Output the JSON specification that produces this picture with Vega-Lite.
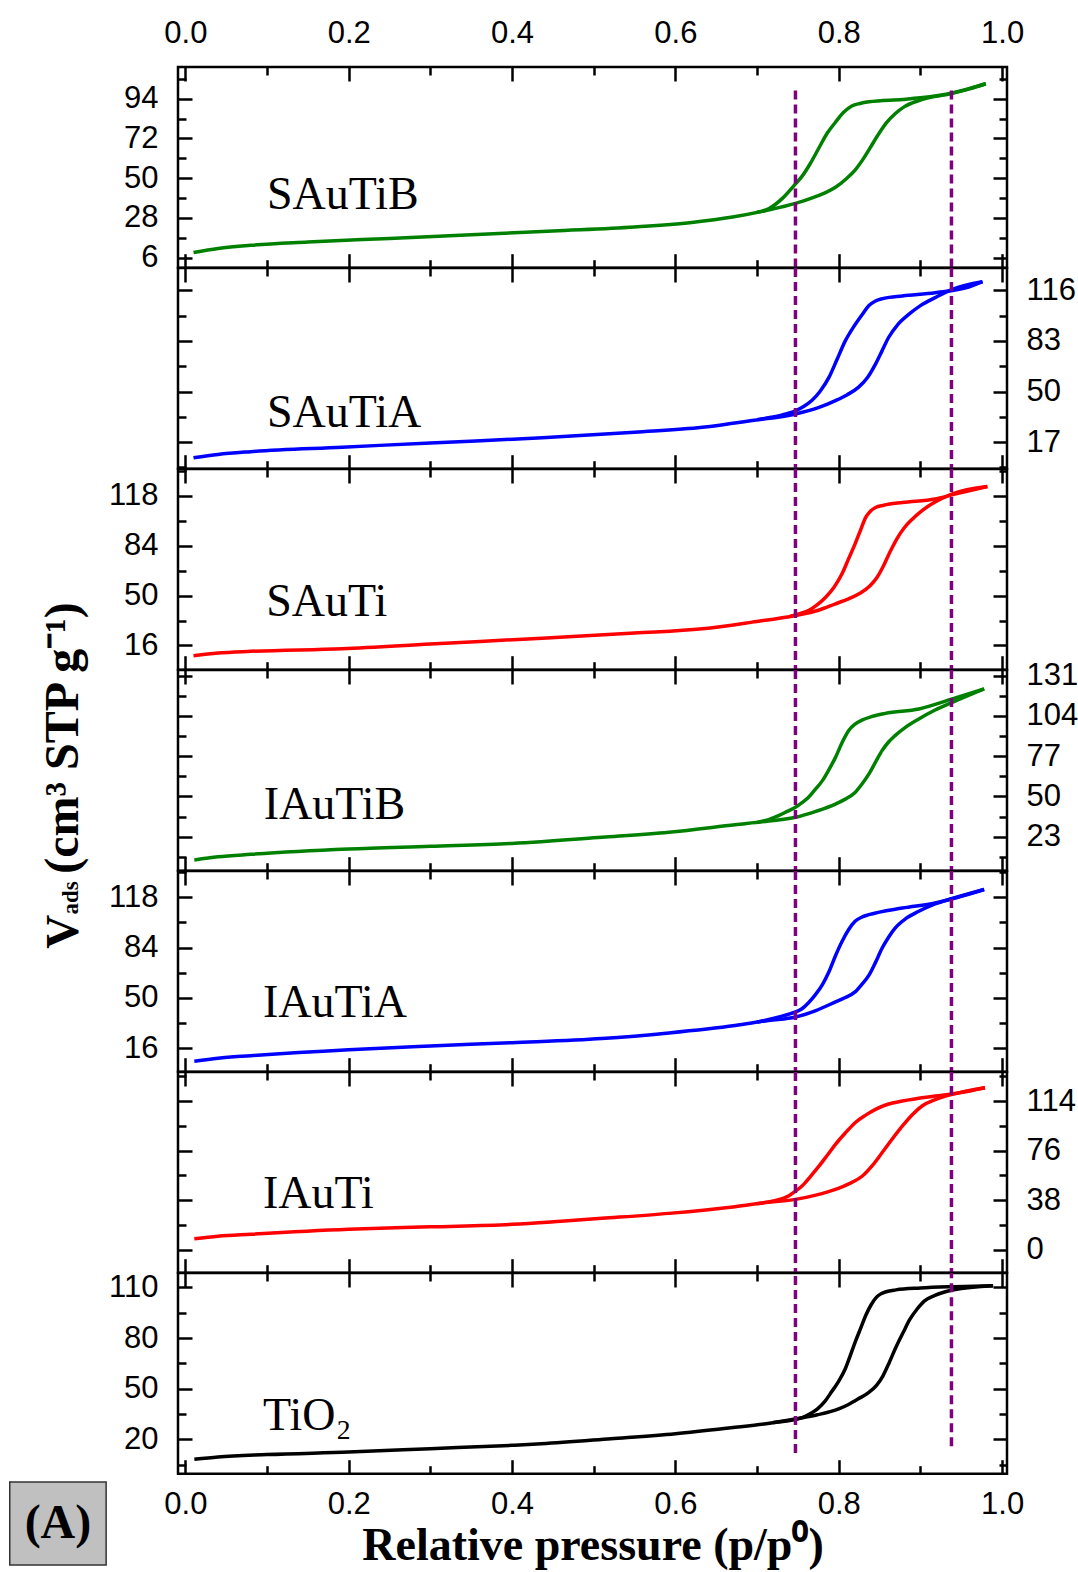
{
"$schema":"https://vega.github.io/schema/vega-lite/v6.json",
"background":"white",
"padding":{"left":7,"top":9,"right":0,"bottom":0},
"spacing":0,
"bounds":"flush",
"config":{"view":{"stroke":"black","strokeWidth":2.5},
"axis":{"domain":false,"grid":false,"tickColor":"black","tickWidth":2.5,"labelFont":"Liberation Sans","labelFontSize":31,"labelColor":"black","labelOverlap":false,"labelFlush":false}},
"datasets":{
"rules":[{"p":0.747},{"p":0.938}],
"rules7":[{"p":0.747,"lo":12},{"p":0.938,"lo":16}],
"d1":[{"b":"a","p":0.01,"v":8.8},{"b":"a","p":0.04,"v":11},{"b":"a","p":0.08,"v":12.8},{"b":"a","p":0.15,"v":14.6},{"b":"a","p":0.25,"v":16.6},{"b":"a","p":0.35,"v":18.6},{"b":"a","p":0.45,"v":20.8},{"b":"a","p":0.55,"v":23},{"b":"a","p":0.62,"v":25.5},{"b":"a","p":0.67,"v":28.5},{"b":"a","p":0.71,"v":32},{"b":"a","p":0.747,"v":36},{"b":"a","p":0.77,"v":39.5},{"b":"a","p":0.785,"v":42.3},{"b":"a","p":0.796,"v":45},{"b":"a","p":0.81,"v":50},{"b":"a","p":0.82,"v":54.5},{"b":"a","p":0.829,"v":60},{"b":"a","p":0.838,"v":66.5},{"b":"a","p":0.849,"v":74.6},{"b":"a","p":0.858,"v":80.5},{"b":"a","p":0.869,"v":85.7},{"b":"a","p":0.88,"v":89.5},{"b":"a","p":0.898,"v":93},{"b":"a","p":0.939,"v":97},{"b":"a","p":0.96,"v":99.5},{"b":"a","p":0.98,"v":102.3},
{"b":"d","p":0.70,"v":31.1},{"b":"d","p":0.714,"v":33},{"b":"d","p":0.731,"v":38.8},{"b":"d","p":0.747,"v":46.8},{"b":"d","p":0.755,"v":51},{"b":"d","p":0.765,"v":58},{"b":"d","p":0.776,"v":67},{"b":"d","p":0.786,"v":75},{"b":"d","p":0.796,"v":81},{"b":"d","p":0.806,"v":86.5},{"b":"d","p":0.816,"v":90},{"b":"d","p":0.826,"v":91.4},{"b":"d","p":0.837,"v":92.3},{"b":"d","p":0.878,"v":93.6},{"b":"d","p":0.9,"v":94.5},{"b":"d","p":0.94,"v":97.3},{"b":"d","p":0.98,"v":102.3}],
"d2":[{"b":"a","p":0.01,"v":6.8},{"b":"a","p":0.04,"v":9},{"b":"a","p":0.08,"v":10.8},{"b":"a","p":0.192,"v":13.7},{"b":"a","p":0.3,"v":16.5},{"b":"a","p":0.437,"v":19.8},{"b":"a","p":0.55,"v":23.5},{"b":"a","p":0.633,"v":26.7},{"b":"a","p":0.694,"v":31.1},{"b":"a","p":0.747,"v":35.4},{"b":"a","p":0.775,"v":39.5},{"b":"a","p":0.796,"v":44.1},{"b":"a","p":0.81,"v":47.8},{"b":"a","p":0.824,"v":52.7},{"b":"a","p":0.835,"v":59},{"b":"a","p":0.845,"v":67.9},{"b":"a","p":0.853,"v":76.5},{"b":"a","p":0.861,"v":85.2},{"b":"a","p":0.872,"v":93.5},{"b":"a","p":0.886,"v":100.4},{"b":"a","p":0.9,"v":106},{"b":"a","p":0.918,"v":111.2},{"b":"a","p":0.939,"v":116.6},{"b":"a","p":0.976,"v":121.6},
{"b":"d","p":0.70,"v":31.6},{"b":"d","p":0.714,"v":32.9},{"b":"d","p":0.73,"v":34.6},{"b":"d","p":0.747,"v":37.4},{"b":"d","p":0.757,"v":40.2},{"b":"d","p":0.767,"v":44.1},{"b":"d","p":0.777,"v":50},{"b":"d","p":0.788,"v":59.2},{"b":"d","p":0.798,"v":71},{"b":"d","p":0.808,"v":83},{"b":"d","p":0.818,"v":92},{"b":"d","p":0.829,"v":100.4},{"b":"d","p":0.837,"v":106},{"b":"d","p":0.845,"v":109},{"b":"d","p":0.855,"v":110.7},{"b":"d","p":0.878,"v":112.3},{"b":"d","p":0.918,"v":114.4},{"b":"d","p":0.959,"v":118.1},{"b":"d","p":0.976,"v":121.6}],
"d3":[{"b":"a","p":0.01,"v":9},{"b":"a","p":0.04,"v":10.8},{"b":"a","p":0.08,"v":12},{"b":"a","p":0.192,"v":13.8},{"b":"a","p":0.3,"v":17},{"b":"a","p":0.437,"v":21},{"b":"a","p":0.55,"v":24.5},{"b":"a","p":0.633,"v":27.4},{"b":"a","p":0.694,"v":31.9},{"b":"a","p":0.747,"v":36.4},{"b":"a","p":0.775,"v":40},{"b":"a","p":0.796,"v":44.4},{"b":"a","p":0.812,"v":47.8},{"b":"a","p":0.826,"v":51.5},{"b":"a","p":0.838,"v":56.5},{"b":"a","p":0.847,"v":62.5},{"b":"a","p":0.855,"v":70.5},{"b":"a","p":0.863,"v":80},{"b":"a","p":0.871,"v":88.5},{"b":"a","p":0.88,"v":96},{"b":"a","p":0.89,"v":102},{"b":"a","p":0.902,"v":107.8},{"b":"a","p":0.939,"v":119.2},{"b":"a","p":0.982,"v":124.3},
{"b":"d","p":0.74,"v":35.8},{"b":"d","p":0.755,"v":38.2},{"b":"d","p":0.763,"v":39.8},{"b":"d","p":0.773,"v":43.5},{"b":"d","p":0.784,"v":48.9},{"b":"d","p":0.794,"v":55.5},{"b":"d","p":0.804,"v":64.8},{"b":"d","p":0.812,"v":75},{"b":"d","p":0.82,"v":85.2},{"b":"d","p":0.827,"v":95},{"b":"d","p":0.833,"v":103.2},{"b":"d","p":0.838,"v":107},{"b":"d","p":0.845,"v":110},{"b":"d","p":0.855,"v":111.5},{"b":"d","p":0.878,"v":113.4},{"b":"d","p":0.918,"v":115.8},{"b":"d","p":0.945,"v":119.5},{"b":"d","p":0.982,"v":124.3}],
"d4":[{"b":"a","p":0.011,"v":7.4},{"b":"a","p":0.04,"v":9.5},{"b":"a","p":0.08,"v":11.2},{"b":"a","p":0.2,"v":14.8},{"b":"a","p":0.3,"v":16.6},{"b":"a","p":0.4,"v":18.5},{"b":"a","p":0.51,"v":22.6},{"b":"a","p":0.592,"v":26},{"b":"a","p":0.673,"v":31},{"b":"a","p":0.714,"v":33.5},{"b":"a","p":0.747,"v":36},{"b":"a","p":0.772,"v":40},{"b":"a","p":0.796,"v":44.9},{"b":"a","p":0.808,"v":48.2},{"b":"a","p":0.82,"v":52.7},{"b":"a","p":0.828,"v":58},{"b":"a","p":0.837,"v":65.1},{"b":"a","p":0.845,"v":73},{"b":"a","p":0.853,"v":80.7},{"b":"a","p":0.861,"v":86.5},{"b":"a","p":0.869,"v":90.8},{"b":"a","p":0.882,"v":96.5},{"b":"a","p":0.898,"v":102},{"b":"a","p":0.918,"v":108},{"b":"a","p":0.939,"v":113.1},{"b":"a","p":0.978,"v":122.1},
{"b":"d","p":0.70,"v":32.6},{"b":"d","p":0.714,"v":34.5},{"b":"d","p":0.727,"v":37.3},{"b":"d","p":0.737,"v":40},{"b":"d","p":0.747,"v":42.7},{"b":"d","p":0.755,"v":45.8},{"b":"d","p":0.763,"v":49.4},{"b":"d","p":0.771,"v":54.5},{"b":"d","p":0.78,"v":60.6},{"b":"d","p":0.788,"v":68},{"b":"d","p":0.796,"v":76.2},{"b":"d","p":0.804,"v":86},{"b":"d","p":0.812,"v":94.1},{"b":"d","p":0.82,"v":98.5},{"b":"d","p":0.829,"v":101.3},{"b":"d","p":0.84,"v":103.5},{"b":"d","p":0.857,"v":105.7},{"b":"d","p":0.898,"v":108.7},{"b":"d","p":0.939,"v":115.4},{"b":"d","p":0.978,"v":122.1}],
"d5":[{"b":"a","p":0.011,"v":7.2},{"b":"a","p":0.04,"v":9.3},{"b":"a","p":0.08,"v":11},{"b":"a","p":0.2,"v":15.1},{"b":"a","p":0.3,"v":17.6},{"b":"a","p":0.4,"v":19.8},{"b":"a","p":0.51,"v":22.6},{"b":"a","p":0.592,"v":26.4},{"b":"a","p":0.673,"v":31.4},{"b":"a","p":0.714,"v":34.8},{"b":"a","p":0.747,"v":37.1},{"b":"a","p":0.772,"v":41.5},{"b":"a","p":0.796,"v":47.3},{"b":"a","p":0.808,"v":50.3},{"b":"a","p":0.82,"v":54.1},{"b":"a","p":0.828,"v":59},{"b":"a","p":0.837,"v":65.4},{"b":"a","p":0.845,"v":74},{"b":"a","p":0.853,"v":83.5},{"b":"a","p":0.861,"v":91},{"b":"a","p":0.869,"v":97.1},{"b":"a","p":0.882,"v":103.5},{"b":"a","p":0.898,"v":108.5},{"b":"a","p":0.918,"v":113.5},{"b":"a","p":0.939,"v":117.1},{"b":"a","p":0.978,"v":123.2},
{"b":"d","p":0.70,"v":33.6},{"b":"d","p":0.727,"v":37.2},{"b":"d","p":0.741,"v":39.4},{"b":"d","p":0.755,"v":42.7},{"b":"d","p":0.763,"v":46.8},{"b":"d","p":0.771,"v":51.9},{"b":"d","p":0.78,"v":59},{"b":"d","p":0.788,"v":67.7},{"b":"d","p":0.796,"v":78.5},{"b":"d","p":0.804,"v":88.1},{"b":"d","p":0.812,"v":96},{"b":"d","p":0.82,"v":101.7},{"b":"d","p":0.828,"v":104.5},{"b":"d","p":0.837,"v":106.2},{"b":"d","p":0.878,"v":110.7},{"b":"d","p":0.918,"v":114.1},{"b":"d","p":0.945,"v":117.8},{"b":"d","p":0.978,"v":123.2}],
"d6":[{"b":"a","p":0.011,"v":8.6},{"b":"a","p":0.04,"v":10.5},{"b":"a","p":0.08,"v":12},{"b":"a","p":0.2,"v":15.8},{"b":"a","p":0.3,"v":17.7},{"b":"a","p":0.4,"v":19.6},{"b":"a","p":0.46,"v":22},{"b":"a","p":0.51,"v":24.2},{"b":"a","p":0.592,"v":28},{"b":"a","p":0.673,"v":33.1},{"b":"a","p":0.714,"v":36.5},{"b":"a","p":0.747,"v":38.7},{"b":"a","p":0.772,"v":42},{"b":"a","p":0.796,"v":46.4},{"b":"a","p":0.813,"v":50.8},{"b":"a","p":0.829,"v":56.6},{"b":"a","p":0.841,"v":64.5},{"b":"a","p":0.853,"v":74.4},{"b":"a","p":0.865,"v":84.5},{"b":"a","p":0.878,"v":94.9},{"b":"a","p":0.89,"v":103.5},{"b":"a","p":0.902,"v":110.2},{"b":"a","p":0.918,"v":115},{"b":"a","p":0.939,"v":119.1},{"b":"a","p":0.979,"v":124.2},
{"b":"d","p":0.70,"v":35.4},{"b":"d","p":0.72,"v":37.6},{"b":"d","p":0.739,"v":41.5},{"b":"d","p":0.747,"v":45},{"b":"d","p":0.755,"v":49},{"b":"d","p":0.765,"v":56},{"b":"d","p":0.776,"v":64.3},{"b":"d","p":0.786,"v":72.5},{"b":"d","p":0.796,"v":80.8},{"b":"d","p":0.808,"v":89.5},{"b":"d","p":0.82,"v":97.4},{"b":"d","p":0.833,"v":103.2},{"b":"d","p":0.845,"v":107.6},{"b":"d","p":0.86,"v":111.5},{"b":"d","p":0.878,"v":114},{"b":"d","p":0.918,"v":117.8},{"b":"d","p":0.945,"v":120},{"b":"d","p":0.979,"v":124.2}],
"d7":[{"b":"a","p":0.011,"v":8.2},{"b":"a","p":0.04,"v":9.6},{"b":"a","p":0.1,"v":11},{"b":"a","p":0.2,"v":12.5},{"b":"a","p":0.3,"v":14.5},{"b":"a","p":0.4,"v":16.5},{"b":"a","p":0.436,"v":17.4},{"b":"a","p":0.521,"v":20.4},{"b":"a","p":0.6,"v":23.4},{"b":"a","p":0.668,"v":26.9},{"b":"a","p":0.711,"v":29.3},{"b":"a","p":0.748,"v":32.2},{"b":"a","p":0.774,"v":34.6},{"b":"a","p":0.8,"v":38.1},{"b":"a","p":0.812,"v":40.7},{"b":"a","p":0.824,"v":44},{"b":"a","p":0.836,"v":47.6},{"b":"a","p":0.846,"v":51.9},{"b":"a","p":0.854,"v":57.5},{"b":"a","p":0.862,"v":65.7},{"b":"a","p":0.87,"v":74.5},{"b":"a","p":0.879,"v":83.4},{"b":"a","p":0.887,"v":91},{"b":"a","p":0.896,"v":97.2},{"b":"a","p":0.905,"v":102},{"b":"a","p":0.917,"v":105.1},{"b":"a","p":0.941,"v":108.6},{"b":"a","p":0.989,"v":111},
{"b":"d","p":0.72,"v":30},{"b":"d","p":0.74,"v":31.2},{"b":"d","p":0.757,"v":33.2},{"b":"d","p":0.765,"v":35.2},{"b":"d","p":0.774,"v":38.1},{"b":"d","p":0.783,"v":42.5},{"b":"d","p":0.791,"v":48},{"b":"d","p":0.8,"v":54.5},{"b":"d","p":0.808,"v":61.8},{"b":"d","p":0.814,"v":69.5},{"b":"d","p":0.82,"v":77.5},{"b":"d","p":0.827,"v":86},{"b":"d","p":0.833,"v":93.3},{"b":"d","p":0.84,"v":100},{"b":"d","p":0.846,"v":104.1},{"b":"d","p":0.851,"v":106},{"b":"d","p":0.858,"v":107.4},{"b":"d","p":0.87,"v":108.5},{"b":"d","p":0.9,"v":109.6},{"b":"d","p":0.941,"v":110.4},{"b":"d","p":0.989,"v":111}]
},
"vconcat":[
{"width":829,"height":200.7,
"layer":[
{"data":{"name":"d1"},"mark":{"type":"line","color":"#008000","strokeWidth":3.5,"interpolate":"monotone"},
"encoding":{"x":{"field":"p","type":"quantitative","scale":{"domain":[-0.009,1.006],"nice":false,"zero":false},"axis":{"orient":"bottom","title":null,"values":[0,0.1,0.2,0.3,0.4,0.5,0.6,0.7,0.8,0.9,1],"labels":false,"tickSize":{"condition":{"test":"round(datum.value*10)%2==0","value":-14},"value":-8}}},
"y":{"field":"v","type":"quantitative","scale":{"domain":[0.4,111.6],"nice":false,"zero":false},"axis":{"orient":"left","title":null,"values":[6,17,28,39,50,61,72,83,94,105],"labelExpr":"indexof([6,28,50,72,94],datum.value)>=0 ? datum.label : ''","labelPadding":34,"tickSize":{"condition":{"test":"indexof([6,28,50,72,94],datum.value)>=0","value":-14},"value":-8}}},
"detail":{"field":"b"}}},
{"data":{"name":"d1"},"mark":{"type":"line","opacity":0},
"encoding":{"x":{"field":"p","type":"quantitative","axis":{"orient":"top","title":null,"values":[0,0.1,0.2,0.3,0.4,0.5,0.6,0.7,0.8,0.9,1],"labelExpr":"round(datum.value*10)%2==0 ? format(datum.value,'.1f') : ''","labelBaseline":"alphabetic","labelPadding":39,"tickSize":{"condition":{"test":"round(datum.value*10)%2==0","value":-14},"value":-8}}},
"y":{"field":"v","type":"quantitative","axis":{"orient":"right","title":null,"values":[6,17,28,39,50,61,72,83,94,105],"labels":false,"tickSize":{"condition":{"test":"indexof([6,28,50,72,94],datum.value)>=0","value":-14},"value":-8}}},
"detail":{"field":"b"}}},
{"data":{"name":"rules"},"mark":{"type":"rule","color":"#800080","strokeWidth":3.5,"strokeDash":[9,5]},
"encoding":{"x":{"field":"p","type":"quantitative","axis":null},"y":{"datum":98.6,"type":"quantitative","axis":null},"y2":{"datum":0.4}}},
{"data":{"values":[{"t":"SAuTiB","p":0.1,"v":33}]},"mark":{"type":"text","align":"left","baseline":"alphabetic","font":"Liberation Serif","fontSize":46,"color":"black"},
"encoding":{"x":{"field":"p","type":"quantitative","axis":null},"y":{"field":"v","type":"quantitative","axis":null},"text":{"field":"t"}}}
],
"resolve":{"axis":{"x":"independent","y":"independent"}}},

{"width":829,"height":200.7,
"layer":[
{"data":{"name":"d2"},"mark":{"type":"line","color":"#0000ff","strokeWidth":3.5,"interpolate":"monotone"},
"encoding":{"x":{"field":"p","type":"quantitative","scale":{"domain":[-0.009,1.006],"nice":false,"zero":false},"axis":{"orient":"bottom","title":null,"values":[0,0.1,0.2,0.3,0.4,0.5,0.6,0.7,0.8,0.9,1],"labels":false,"tickSize":{"condition":{"test":"round(datum.value*10)%2==0","value":-14},"value":-8}}},
"y":{"field":"v","type":"quantitative","scale":{"domain":[-0.3,130.5],"nice":false,"zero":false},"axis":{"orient":"left","title":null,"values":[0.5,17,33.5,50,66.5,83,99.5,116],"labels":false,"tickSize":{"condition":{"test":"indexof([17,50,83,116],datum.value)>=0","value":-14},"value":-8}}},
"detail":{"field":"b"}}},
{"data":{"name":"d2"},"mark":{"type":"line","opacity":0},
"encoding":{"x":{"field":"p","type":"quantitative","axis":{"orient":"top","title":null,"values":[0,0.1,0.2,0.3,0.4,0.5,0.6,0.7,0.8,0.9,1],"labels":false,"tickSize":{"condition":{"test":"round(datum.value*10)%2==0","value":-14},"value":-8}}},
"y":{"field":"v","type":"quantitative","axis":{"orient":"right","title":null,"values":[0.5,17,33.5,50,66.5,83,99.5,116],"labelExpr":"indexof([17,50,83,116],datum.value)>=0 ? datum.label : ''","labelPadding":33,"tickSize":{"condition":{"test":"indexof([17,50,83,116],datum.value)>=0","value":-14},"value":-8}}},
"detail":{"field":"b"}}},
{"data":{"name":"rules"},"mark":{"type":"rule","color":"#800080","strokeWidth":3.5,"strokeDash":[9,5]},
"encoding":{"x":{"field":"p","type":"quantitative","axis":null}}},
{"data":{"values":[{"t":"SAuTiA","p":0.1,"v":26.7}]},"mark":{"type":"text","align":"left","baseline":"alphabetic","font":"Liberation Serif","fontSize":46,"color":"black"},
"encoding":{"x":{"field":"p","type":"quantitative","axis":null},"y":{"field":"v","type":"quantitative","axis":null},"text":{"field":"t"}}}
],
"resolve":{"axis":{"x":"independent","y":"independent"}}},

{"width":829,"height":200.7,
"layer":[
{"data":{"name":"d3"},"mark":{"type":"line","color":"#ff0000","strokeWidth":3.5,"interpolate":"monotone"},
"encoding":{"x":{"field":"p","type":"quantitative","scale":{"domain":[-0.009,1.006],"nice":false,"zero":false},"axis":{"orient":"bottom","title":null,"values":[0,0.1,0.2,0.3,0.4,0.5,0.6,0.7,0.8,0.9,1],"labels":false,"tickSize":{"condition":{"test":"round(datum.value*10)%2==0","value":-14},"value":-8}}},
"y":{"field":"v","type":"quantitative","scale":{"domain":[-0.5,136.2],"nice":false,"zero":false},"axis":{"orient":"left","title":null,"values":[16,33,50,67,84,101,118,135],"labelExpr":"indexof([16,50,84,118],datum.value)>=0 ? datum.label : ''","labelPadding":34,"tickSize":{"condition":{"test":"indexof([16,50,84,118],datum.value)>=0","value":-14},"value":-8}}},
"detail":{"field":"b"}}},
{"data":{"name":"d3"},"mark":{"type":"line","opacity":0},
"encoding":{"x":{"field":"p","type":"quantitative","axis":{"orient":"top","title":null,"values":[0,0.1,0.2,0.3,0.4,0.5,0.6,0.7,0.8,0.9,1],"labels":false,"tickSize":{"condition":{"test":"round(datum.value*10)%2==0","value":-14},"value":-8}}},
"y":{"field":"v","type":"quantitative","axis":{"orient":"right","title":null,"values":[16,33,50,67,84,101,118,135],"labels":false,"tickSize":{"condition":{"test":"indexof([16,50,84,118],datum.value)>=0","value":-14},"value":-8}}},
"detail":{"field":"b"}}},
{"data":{"name":"rules"},"mark":{"type":"rule","color":"#800080","strokeWidth":3.5,"strokeDash":[9,5]},
"encoding":{"x":{"field":"p","type":"quantitative","axis":null}}},
{"data":{"values":[{"t":"SAuTi","p":0.099,"v":36}]},"mark":{"type":"text","align":"left","baseline":"alphabetic","font":"Liberation Serif","fontSize":46,"color":"black"},
"encoding":{"x":{"field":"p","type":"quantitative","axis":null},"y":{"field":"v","type":"quantitative","axis":null},"text":{"field":"t"}}}
],
"resolve":{"axis":{"x":"independent","y":"independent"}}},

{"width":829,"height":200.7,
"layer":[
{"data":{"name":"d4"},"mark":{"type":"line","color":"#008000","strokeWidth":3.5,"interpolate":"monotone"},
"encoding":{"x":{"field":"p","type":"quantitative","scale":{"domain":[-0.009,1.006],"nice":false,"zero":false},"axis":{"orient":"bottom","title":null,"values":[0,0.1,0.2,0.3,0.4,0.5,0.6,0.7,0.8,0.9,1],"labels":false,"tickSize":{"condition":{"test":"round(datum.value*10)%2==0","value":-14},"value":-8}}},
"y":{"field":"v","type":"quantitative","scale":{"domain":[0.2,134.8],"nice":false,"zero":false},"axis":{"orient":"left","title":null,"values":[9.5,23,36.5,50,63.5,77,90.5,104,117.5,131],"labels":false,"tickSize":{"condition":{"test":"indexof([23,50,77,104,131],datum.value)>=0","value":-14},"value":-8}}},
"detail":{"field":"b"}}},
{"data":{"name":"d4"},"mark":{"type":"line","opacity":0},
"encoding":{"x":{"field":"p","type":"quantitative","axis":{"orient":"top","title":null,"values":[0,0.1,0.2,0.3,0.4,0.5,0.6,0.7,0.8,0.9,1],"labels":false,"tickSize":{"condition":{"test":"round(datum.value*10)%2==0","value":-14},"value":-8}}},
"y":{"field":"v","type":"quantitative","axis":{"orient":"right","title":null,"values":[9.5,23,36.5,50,63.5,77,90.5,104,117.5,131],"labelExpr":"indexof([23,50,77,104,131],datum.value)>=0 ? datum.label : ''","labelPadding":33,"tickSize":{"condition":{"test":"indexof([23,50,77,104,131],datum.value)>=0","value":-14},"value":-8}}},
"detail":{"field":"b"}}},
{"data":{"name":"rules"},"mark":{"type":"rule","color":"#800080","strokeWidth":3.5,"strokeDash":[9,5]},
"encoding":{"x":{"field":"p","type":"quantitative","axis":null}}},
{"data":{"values":[{"t":"IAuTiB","p":0.096,"v":35}]},"mark":{"type":"text","align":"left","baseline":"alphabetic","font":"Liberation Serif","fontSize":46,"color":"black"},
"encoding":{"x":{"field":"p","type":"quantitative","axis":null},"y":{"field":"v","type":"quantitative","axis":null},"text":{"field":"t"}}},
{"data":{"values":[{"t":"V","p":-0.1315,"v":-52.1}]},"mark":{"type":"text","align":"left","baseline":"alphabetic","angle":270,"font":"Liberation Serif","fontWeight":"bold","fontSize":47,"color":"black"},
"encoding":{"x":{"field":"p","type":"quantitative","axis":null},"y":{"field":"v","type":"quantitative","axis":null},"text":{"field":"t"}}},
{"data":{"values":[{"t":"(cm³ STP g⁻¹)","p":-0.1315,"v":-1.8}]},"mark":{"type":"text","align":"left","baseline":"alphabetic","angle":270,"font":"Liberation Serif","fontWeight":"bold","fontSize":48,"color":"black"},
"encoding":{"x":{"field":"p","type":"quantitative","axis":null},"y":{"field":"v","type":"quantitative","axis":null},"text":{"field":"t"}}},
{"data":{"values":[{"t":"ads","p":-0.1315,"v":-29.2}]},"mark":{"type":"text","align":"left","baseline":"alphabetic","angle":270,"font":"Liberation Serif","fontWeight":"bold","fontSize":23,"color":"black"},
"encoding":{"x":{"field":"p","type":"quantitative","axis":null},"y":{"field":"v","type":"quantitative","axis":null},"text":{"field":"t"}}}
],
"resolve":{"axis":{"x":"independent","y":"independent"}}},

{"width":829,"height":200.7,
"layer":[
{"data":{"name":"d5"},"mark":{"type":"line","color":"#0000ff","strokeWidth":3.5,"interpolate":"monotone"},
"encoding":{"x":{"field":"p","type":"quantitative","scale":{"domain":[-0.009,1.006],"nice":false,"zero":false},"axis":{"orient":"bottom","title":null,"values":[0,0.1,0.2,0.3,0.4,0.5,0.6,0.7,0.8,0.9,1],"labels":false,"tickSize":{"condition":{"test":"round(datum.value*10)%2==0","value":-14},"value":-8}}},
"y":{"field":"v","type":"quantitative","scale":{"domain":[0.2,135.7],"nice":false,"zero":false},"axis":{"orient":"left","title":null,"values":[16,33,50,67,84,101,118,135],"labelExpr":"indexof([16,50,84,118],datum.value)>=0 ? datum.label : ''","labelPadding":34,"tickSize":{"condition":{"test":"indexof([16,50,84,118],datum.value)>=0","value":-14},"value":-8}}},
"detail":{"field":"b"}}},
{"data":{"name":"d5"},"mark":{"type":"line","opacity":0},
"encoding":{"x":{"field":"p","type":"quantitative","axis":{"orient":"top","title":null,"values":[0,0.1,0.2,0.3,0.4,0.5,0.6,0.7,0.8,0.9,1],"labels":false,"tickSize":{"condition":{"test":"round(datum.value*10)%2==0","value":-14},"value":-8}}},
"y":{"field":"v","type":"quantitative","axis":{"orient":"right","title":null,"values":[16,33,50,67,84,101,118,135],"labels":false,"tickSize":{"condition":{"test":"indexof([16,50,84,118],datum.value)>=0","value":-14},"value":-8}}},
"detail":{"field":"b"}}},
{"data":{"name":"rules"},"mark":{"type":"rule","color":"#800080","strokeWidth":3.5,"strokeDash":[9,5]},
"encoding":{"x":{"field":"p","type":"quantitative","axis":null}}},
{"data":{"values":[{"t":"IAuTiA","p":0.095,"v":37}]},"mark":{"type":"text","align":"left","baseline":"alphabetic","font":"Liberation Serif","fontSize":46,"color":"black"},
"encoding":{"x":{"field":"p","type":"quantitative","axis":null},"y":{"field":"v","type":"quantitative","axis":null},"text":{"field":"t"}}}
],
"resolve":{"axis":{"x":"independent","y":"independent"}}},

{"width":829,"height":200.7,
"layer":[
{"data":{"name":"d6"},"mark":{"type":"line","color":"#ff0000","strokeWidth":3.5,"interpolate":"monotone"},
"encoding":{"x":{"field":"p","type":"quantitative","scale":{"domain":[-0.009,1.006],"nice":false,"zero":false},"axis":{"orient":"bottom","title":null,"values":[0,0.1,0.2,0.3,0.4,0.5,0.6,0.7,0.8,0.9,1],"labels":false,"tickSize":{"condition":{"test":"round(datum.value*10)%2==0","value":-14},"value":-8}}},
"y":{"field":"v","type":"quantitative","scale":{"domain":[-17.4,136.2],"nice":false,"zero":false},"axis":{"orient":"left","title":null,"values":[0,19,38,57,76,95,114,133],"labels":false,"tickSize":{"condition":{"test":"indexof([0,38,76,114],datum.value)>=0","value":-14},"value":-8}}},
"detail":{"field":"b"}}},
{"data":{"name":"d6"},"mark":{"type":"line","opacity":0},
"encoding":{"x":{"field":"p","type":"quantitative","axis":{"orient":"top","title":null,"values":[0,0.1,0.2,0.3,0.4,0.5,0.6,0.7,0.8,0.9,1],"labels":false,"tickSize":{"condition":{"test":"round(datum.value*10)%2==0","value":-14},"value":-8}}},
"y":{"field":"v","type":"quantitative","axis":{"orient":"right","title":null,"values":[0,19,38,57,76,95,114,133],"labelExpr":"indexof([0,38,76,114],datum.value)>=0 ? datum.label : ''","labelPadding":33,"tickSize":{"condition":{"test":"indexof([0,38,76,114],datum.value)>=0","value":-14},"value":-8}}},
"detail":{"field":"b"}}},
{"data":{"name":"rules"},"mark":{"type":"rule","color":"#800080","strokeWidth":3.5,"strokeDash":[9,5]},
"encoding":{"x":{"field":"p","type":"quantitative","axis":null}}},
{"data":{"values":[{"t":"IAuTi","p":0.095,"v":32.4}]},"mark":{"type":"text","align":"left","baseline":"alphabetic","font":"Liberation Serif","fontSize":46,"color":"black"},
"encoding":{"x":{"field":"p","type":"quantitative","axis":null},"y":{"field":"v","type":"quantitative","axis":null},"text":{"field":"t"}}}
],
"resolve":{"axis":{"x":"independent","y":"independent"}}},

{"width":829,"height":200.7,
"layer":[
{"data":{"name":"d7"},"mark":{"type":"line","color":"#000000","strokeWidth":3.5,"interpolate":"monotone"},
"encoding":{"x":{"field":"p","type":"quantitative","scale":{"domain":[-0.009,1.006],"nice":false,"zero":false},"axis":{"orient":"bottom","values":[0,0.1,0.2,0.3,0.4,0.5,0.6,0.7,0.8,0.9,1],"labelExpr":"round(datum.value*10)%2==0 ? format(datum.value,'.1f') : ''","labelBaseline":"alphabetic","labelPadding":54,"tickSize":{"condition":{"test":"round(datum.value*10)%2==0","value":-14},"value":-8},"title":"Relative pressure (p/p⁰)","titleFont":"Liberation Serif","titleFontSize":46,"titleFontWeight":"bold","titleColor":"black","titlePadding":-2}},
"y":{"field":"v","type":"quantitative","scale":{"domain":[-0.3,118.5],"nice":false,"zero":false},"axis":{"orient":"left","title":null,"values":[5,20,35,50,65,80,95,110],"labelExpr":"indexof([20,50,80,110],datum.value)>=0 ? datum.label : ''","labelPadding":34,"tickSize":{"condition":{"test":"indexof([20,50,80,110],datum.value)>=0","value":-14},"value":-8}}},
"detail":{"field":"b"}}},
{"data":{"name":"d7"},"mark":{"type":"line","opacity":0},
"encoding":{"x":{"field":"p","type":"quantitative","axis":{"orient":"top","title":null,"values":[0,0.1,0.2,0.3,0.4,0.5,0.6,0.7,0.8,0.9,1],"labels":false,"tickSize":{"condition":{"test":"round(datum.value*10)%2==0","value":-14},"value":-8}}},
"y":{"field":"v","type":"quantitative","axis":{"orient":"right","title":null,"values":[5,20,35,50,65,80,95,110],"labels":false,"tickSize":{"condition":{"test":"indexof([20,50,80,110],datum.value)>=0","value":-14},"value":-8}}},
"detail":{"field":"b"}}},
{"data":{"name":"rules7"},"mark":{"type":"rule","color":"#800080","strokeWidth":3.5,"strokeDash":[9,5]},
"encoding":{"x":{"field":"p","type":"quantitative","axis":null},"y":{"field":"lo","type":"quantitative","axis":null},"y2":{"datum":118.5}}},
{"data":{"values":[{"t":"TiO₂","p":0.095,"v":25.5}]},"mark":{"type":"text","align":"left","baseline":"alphabetic","font":"Liberation Serif","fontSize":46,"color":"black"},
"encoding":{"x":{"field":"p","type":"quantitative","axis":null},"y":{"field":"v","type":"quantitative","axis":null},"text":{"field":"t"}}},
{"data":{"values":[{"x1":-0.215,"x2":-0.097,"y1":-5.2,"y2":-54.3}]},"mark":{"type":"rect","fill":"#c0c0c0","stroke":"#333333","strokeWidth":1.5},
"encoding":{"x":{"field":"x1","type":"quantitative","axis":null},"x2":{"field":"x2"},"y":{"field":"y1","type":"quantitative","axis":null},"y2":{"field":"y2"}}},
{"data":{"values":[{"t":"(A)","p":-0.156,"v":-30}]},"mark":{"type":"text","align":"center","baseline":"middle","font":"Liberation Serif","fontWeight":"bold","fontSize":48,"color":"black"},
"encoding":{"x":{"field":"p","type":"quantitative","axis":null},"y":{"field":"v","type":"quantitative","axis":null},"text":{"field":"t"}}}
],
"resolve":{"axis":{"x":"independent","y":"independent"}}}
]
}
